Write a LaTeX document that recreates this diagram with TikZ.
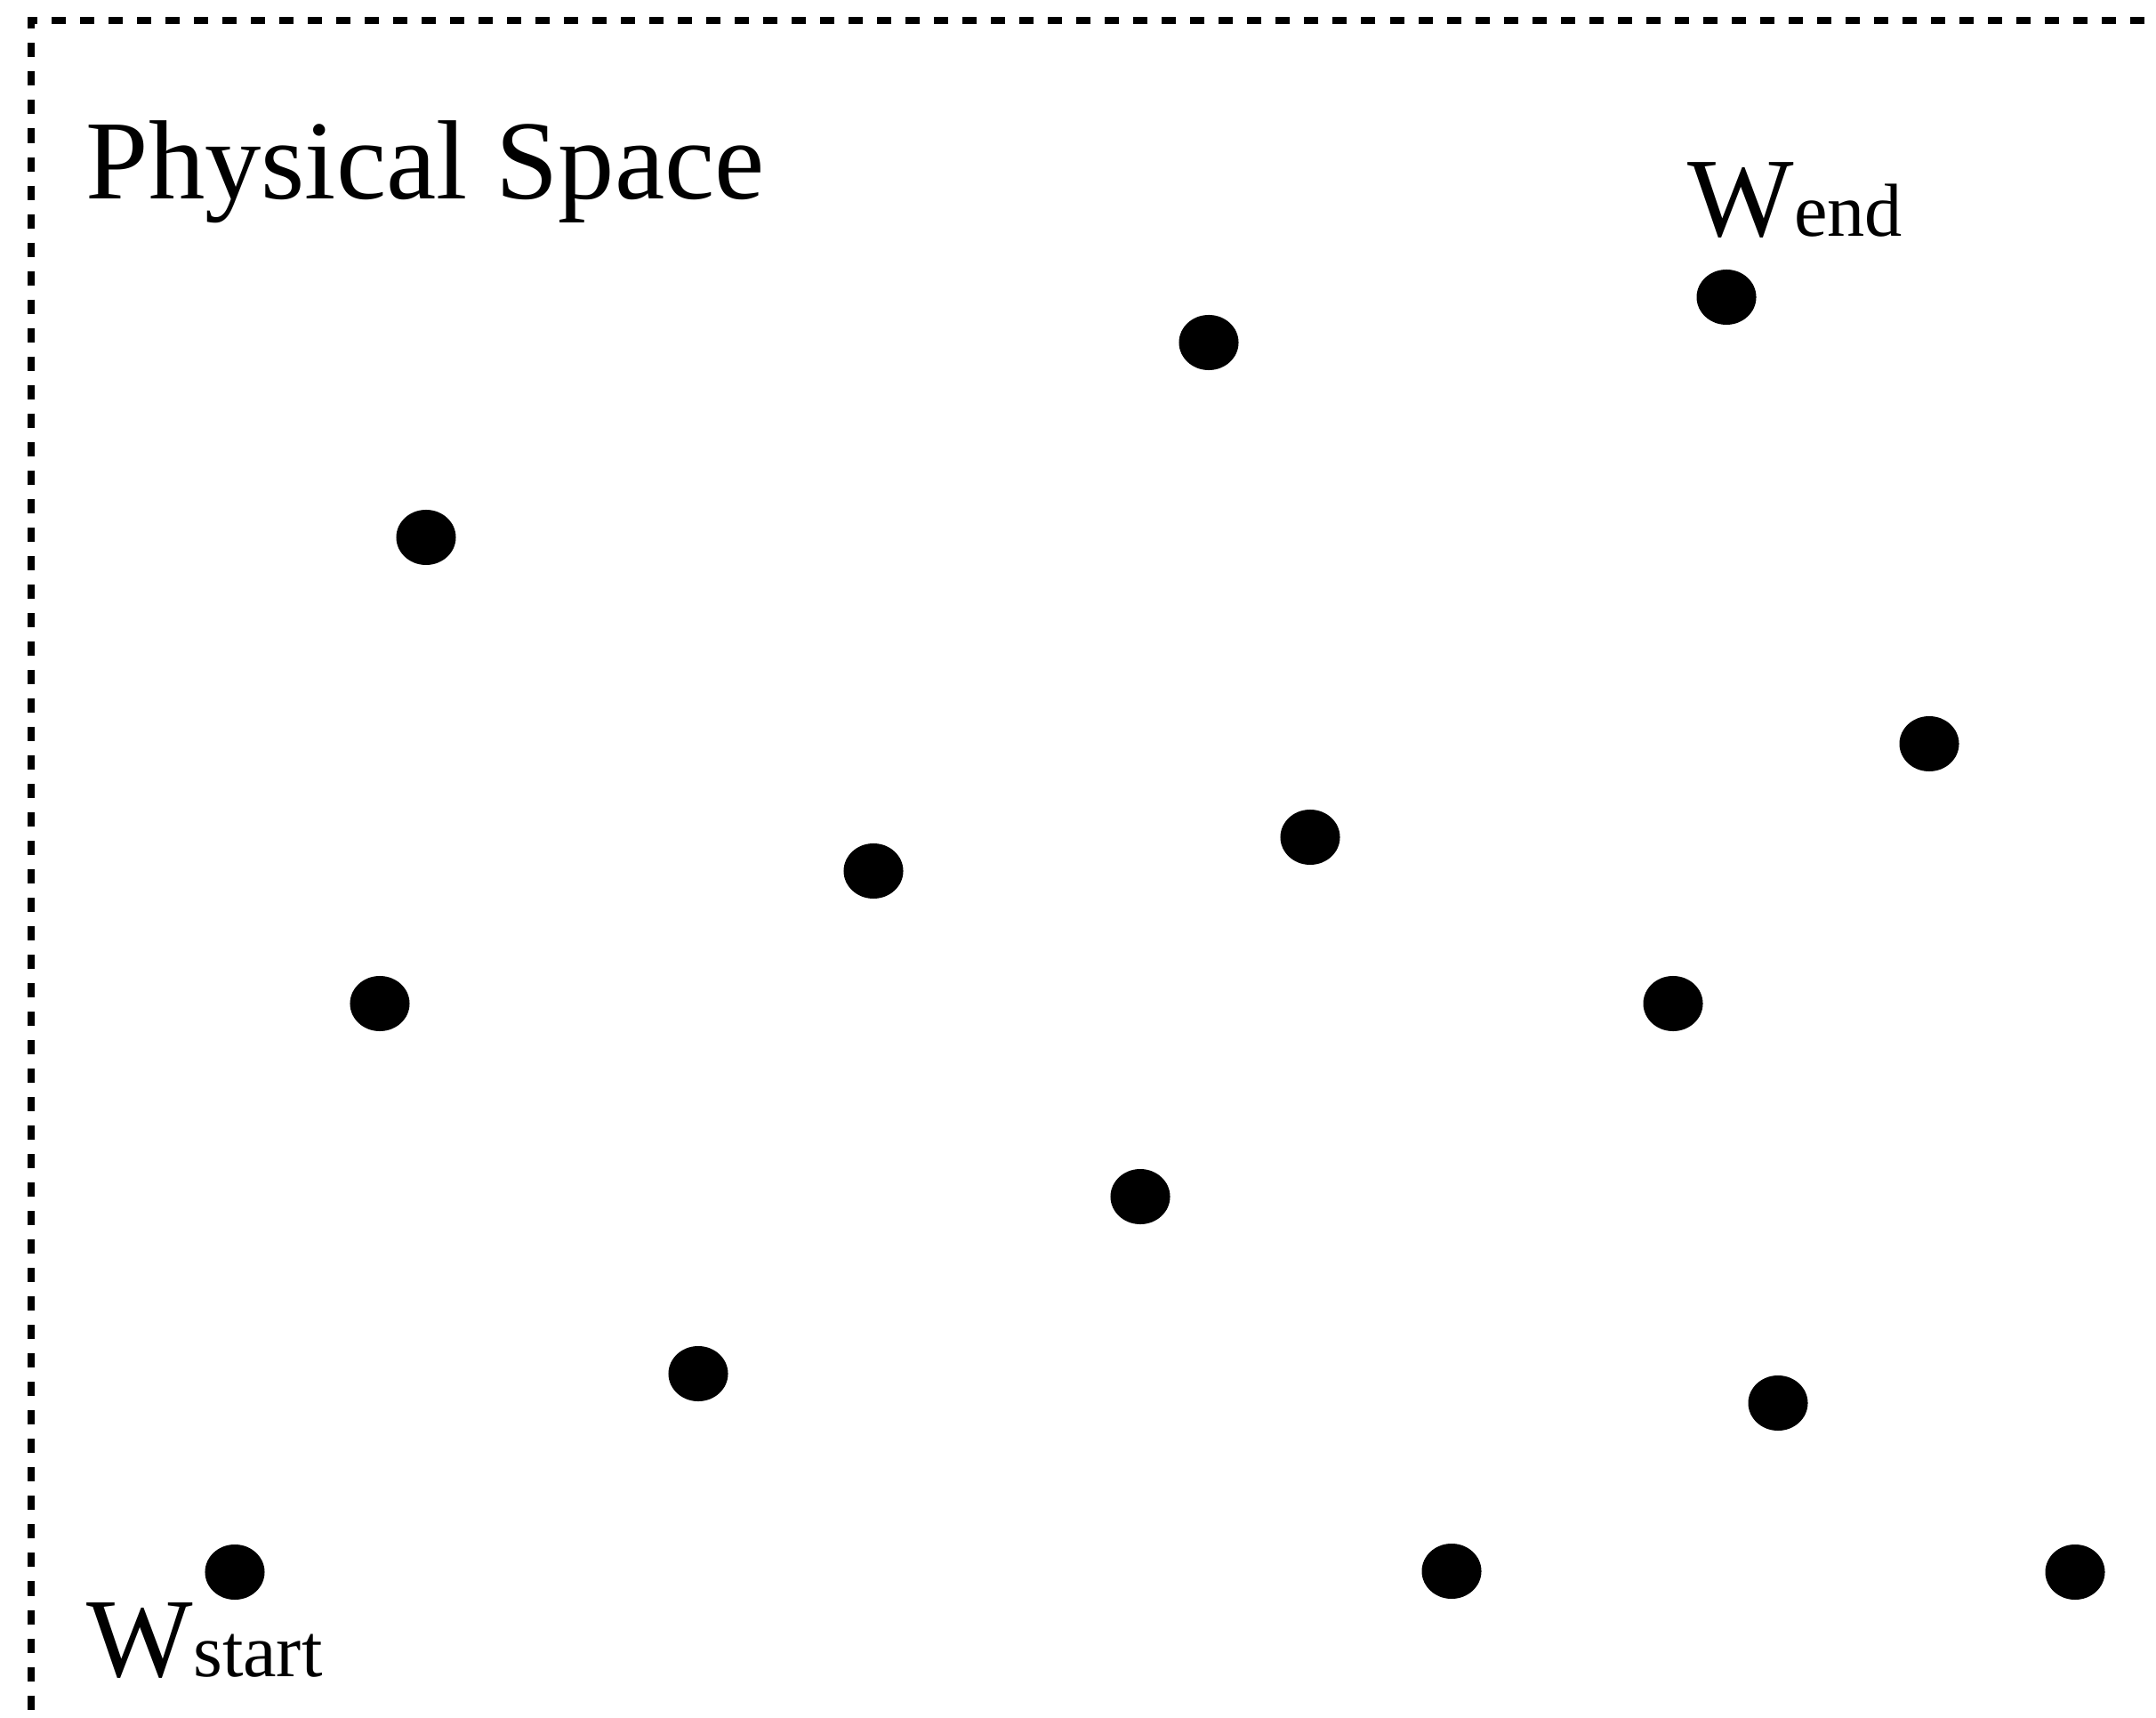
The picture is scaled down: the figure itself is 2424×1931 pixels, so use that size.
\documentclass[tikz,border=0pt]{standalone}
\usepackage{fontspec}
\setmainfont{Liberation Serif}
\usetikzlibrary{shapes.geometric}
\begin{document}
\begin{tikzpicture}[x=0.01cm,y=-0.01cm,
  dot/.style={ellipse,fill=black,draw=none,inner sep=0pt,minimum width=0.67cm,minimum height=0.62cm},
  frameline/.style={line width=0.08cm,dash pattern=on 0.16cm off 0.16cm,dash phase=0.19cm,line join=miter},
  big/.style={font=\fontsize{36}{40}\selectfont,inner sep=0pt,anchor=base west},
  subtext/.style={}]
\useasboundingbox (0,0) rectangle (2424,1931);
\fill[white] (0,0) rectangle (2424,1931);
% frame
\coordinate (tr) at (2424,23);
\coordinate (corner) at (35,23);
\coordinate (bl) at (35,1931);
\draw[frameline] (tr) -- (corner) -- (bl);
% labels
\node[big] (title) at (96,224) {Physical Space};
\node[big] (wend) at (1897,266) {W{\fontsize{24}{26}\selectfont end}};
\node[big] (wstart) at (97,1884) {W{\fontsize{24}{26}\selectfont start}};
% points
\node[dot] (p1) at (1359,385) {};
\node[dot] (p2) at (1941,334) {};
\node[dot] (p3) at (479,604) {};
\node[dot] (p4) at (2169,836) {};
\node[dot] (p5) at (1473,941) {};
\node[dot] (p6) at (982,979) {};
\node[dot] (p7) at (427,1128) {};
\node[dot] (p8) at (1881,1128) {};
\node[dot] (p9) at (1282,1345) {};
\node[dot] (p10) at (785,1544) {};
\node[dot] (p11) at (1999,1577) {};
\node[dot] (p12) at (264,1767) {};
\node[dot] (p13) at (1632,1766) {};
\node[dot] (p14) at (2333,1767) {};
\end{tikzpicture}
\end{document}
